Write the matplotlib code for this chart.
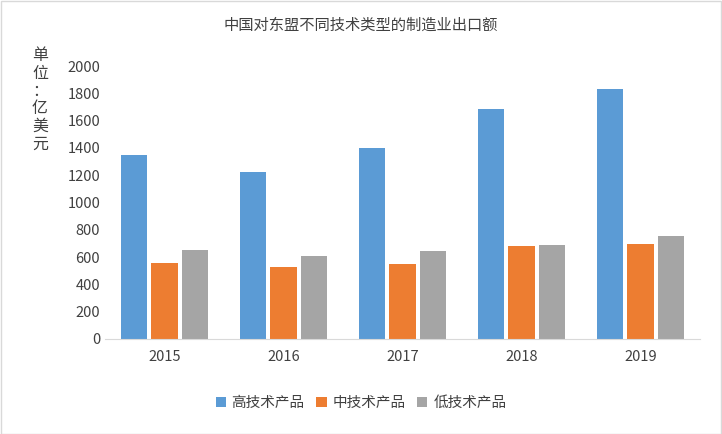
import matplotlib
matplotlib.use("Agg")
import matplotlib.pyplot as plt
import numpy as np

plt.rcParams['font.family'] = ['Noto Sans CJK SC']

years = ["2015", "2016", "2017", "2018", "2019"]
series_names = ["高技术产品", "中技术产品", "低技术产品"]
high = [1345, 1225, 1400, 1685, 1830]
mid = [555, 525, 550, 680, 695]
low = [650, 605, 645, 685, 755]
colors = ["#5B9BD5", "#ED7D31", "#A5A5A5"]

fig = plt.figure(figsize=(7.22, 4.34), dpi=100)
ax = fig.add_axes([105/722, 1-339/434, 595/722, 273/434])
x = np.arange(len(years))
w = 0.22
for i, (vals, name) in enumerate(zip([high, mid, low], series_names)):
    ax.bar(x + (i-1)*w*1.18, vals, w, color=colors[i], label=name)
ax.set_xlim(-0.5, 4.5)
ax.set_ylim(0, 2000)
ax.set_yticks(range(0, 2001, 200))
ax.set_xticks(x)
ax.set_xticklabels(years)
ax.tick_params(length=0, labelsize=10.5, colors="#404040")
ax.tick_params(axis='x', pad=8)
for s in ["top", "right", "left"]:
    ax.spines[s].set_visible(False)
ax.spines["bottom"].set_color("#D9D9D9")
fig.text(0.5, 1-25/434, "中国对东盟不同技术类型的制造业出口额", ha="center", va="center",
         fontsize=11, color="#404040")
fig.text(40/722, 1-100/434, "单\n位\n：\n亿\n美\n元", ha="center", va="center",
         fontsize=11.5, color="#404040", linespacing=1.05)
fig.legend(loc="center", bbox_to_anchor=(0.5, 1-403/434), ncol=3, frameon=False,
           fontsize=10.5, handlelength=0.7, handleheight=0.7, columnspacing=0.8, handletextpad=0.4,
           labelcolor="#404040")
fig.patches.append(plt.Rectangle((0.001, 0.001), 0.997, 0.997, transform=fig.transFigure,
                                 fill=False, edgecolor="#D9D9D9", lw=1))
fig.savefig("out.png", dpi=100)
